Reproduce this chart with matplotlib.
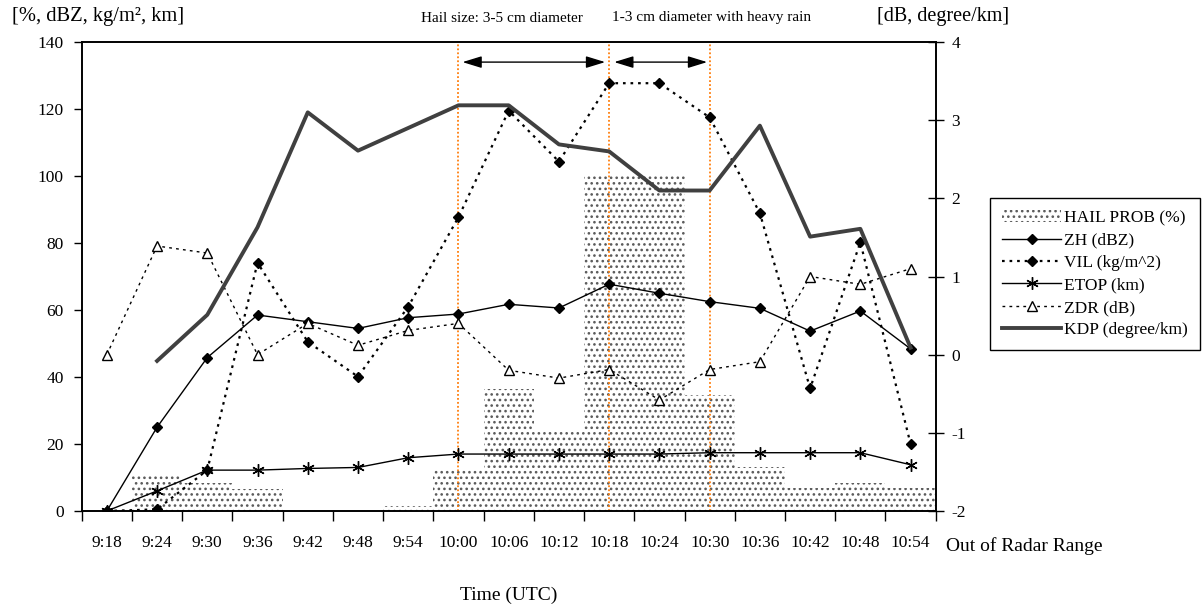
import numpy as np
import matplotlib
matplotlib.use('Agg')
import matplotlib.pyplot as plt

plt.rcParams['font.family'] = ['Liberation Serif', 'DejaVu Serif']
plt.rcParams['hatch.linewidth'] = 1.1
plt.rcParams['axes.unicode_minus'] = False

times = ['9:18', '9:24', '9:30', '9:36', '9:42', '9:48', '9:54', '10:00', '10:06',
         '10:12', '10:18', '10:24', '10:30', '10:36', '10:42', '10:48', '10:54']
hail_prob = [0, 11, 8.5, 6.5, 0, 0, 1.5, 12.5, 36.5, 23.5, 100, 100, 34.5, 13, 7, 8.5, 7]
zh = [0, 25, 45.8, 58.5, 56.5, 54.5, 57.7, 58.8, 61.7, 60.6, 67.7, 65, 62.5, 60.5, 53.7, 59.7, 48.4]
vil = [0, 0.5, 12.2, 74.1, 50.5, 40.1, 61, 87.7, 119.5, 104.3, 127.7, 127.7, 117.5, 88.9, 36.6, 80.2, 20]
etop = [0, 6, 12.2, 12.2, 12.7, 13, 15.9, 17, 17, 17, 17, 17, 17.4, 17.4, 17.4, 17.4, 13.8]
zdr = [0.0, 1.39, 1.30, 0.0, 0.40, 0.12, 0.31, 0.40, -0.2, -0.3, -0.19, -0.58, -0.19, -0.09, 1.0, 0.9, 1.1]
kdp = [np.nan, -0.08, 0.51, 1.63, 3.10, 2.61, 2.90, 3.19, 3.19, 2.69, 2.60, 2.10, 2.10, 2.93, 1.51, 1.61, 0.09]
event_times = ['10:00', '10:18', '10:30']
left_ticks = [0, 20, 40, 60, 80, 100, 120, 140]
right_ticks = [-2, -1, 0, 1, 2, 3, 4]

W, H = 1204, 608
fig = plt.figure(figsize=(W / 100, H / 100), dpi=100)
ax = fig.add_axes([81.7 / W, 1 - 511 / H, (935.7 - 81.7) / W, (511 - 42) / H])
x = np.arange(len(times))

bars = ax.bar(x, hail_prob, width=1.0, facecolor='white', edgecolor='#5a5a5a',
              linewidth=0, hatch='...', zorder=1, label='HAIL PROB (%)')

for t in event_times:
    ax.axvline(times.index(t), color='#ff7f0e', ls=(0, (1, 1.2)), lw=1.3, zorder=2)

l_zh, = ax.plot(x, zh, '-', color='black', lw=1, marker='D', ms=5, zorder=4, label='ZH (dBZ)')
l_vil, = ax.plot(x, vil, color='black', lw=1.6, ls=(0, (1.2, 2.2)), marker='D', ms=5,
                 zorder=4, label='VIL (kg/m^2)')
l_etop, = ax.plot(x, etop, '-', color='black', lw=1, marker=(6, 2, 0), ms=9, mew=1,
                  zorder=4, label='ETOP (km)')

ax.set_xlim(-0.5, len(times) - 0.5)
ax.set_ylim(0, 140)
ax.set_yticks(left_ticks)
ax.set_xticks(x)
ax.set_xticklabels(times)
ax.set_xticks(np.arange(-0.5, len(times), 1), minor=True)
ax.tick_params(axis='x', which='major', length=0, pad=17, labelsize=12.5)
ax.tick_params(axis='x', which='minor', length=7, direction='out', width=1)
ax.tick_params(axis='y', length=6, direction='out', pad=7, labelsize=12.5, width=1)

# arrows
i0, i1, i2 = [times.index(t) for t in event_times]
for a, b in [(i0 + 0.08, i1 - 0.08), (i1 + 0.1, i2 - 0.05)]:
    ax.annotate('', xy=(b, 134), xytext=(a, 134),
                arrowprops=dict(arrowstyle='<|-|>,head_length=0.65,head_width=0.2',
                                color='black', lw=1, mutation_scale=18,
                                shrinkA=0, shrinkB=0), zorder=5)

ax2 = ax.twinx()
l_zdr, = ax2.plot(x, zdr, color='black', lw=1, ls=(0, (2, 3)), marker='^', ms=6.5,
                  mfc='white', mec='black', mew=1, label='ZDR (dB)')
l_kdp, = ax2.plot(x, kdp, color='#404040', lw=2.8, label='KDP (degree/km)')
ax2.set_ylim(-2, 4)
ax2.set_yticks(right_ticks)
ax2.tick_params(axis='y', direction='inout', length=11, pad=6, labelsize=12.5, width=1)

for a_ in (ax, ax2):
    for s in a_.spines.values():
        s.set_linewidth(1.2)
        s.set_color('black')

fig.text(12 / W, 1 - 17 / H, '[%, dBZ, kg/m\u00b2, km]', fontsize=14.8, va='center', ha='left')
fig.text(877 / W, 1 - 17 / H, '[dB, degree/km]', fontsize=14.5, va='center', ha='left')
fig.text(421 / W, 1 - 18 / H, 'Hail size: 3-5 cm diameter', fontsize=11, va='center', ha='left')
fig.text(612 / W, 1 - 18 / H, '1-3 cm diameter with heavy rain', fontsize=11, va='center', ha='left')
fig.text(946 / W, 1 - 546 / H, 'Out of Radar Range', fontsize=14, va='center', ha='left')
fig.text(509 / W, 1 - 595 / H, 'Time (UTC)', fontsize=14, va='center', ha='center')

handles = [bars, l_zh, l_vil, l_etop, l_zdr, l_kdp]
leg = fig.legend(handles, [h.get_label() for h in handles], loc='upper left',
                 bbox_to_anchor=(990 / W, 1 - 198 / H), bbox_transform=fig.transFigure,
                 frameon=True, fancybox=False, edgecolor='black', framealpha=1,
                 fontsize=12.5, handlelength=3.4, handletextpad=0.15, labelspacing=0.36,
                 borderpad=0.7, borderaxespad=0)
leg.get_frame().set_linewidth(1)

fig.savefig('out.png', dpi=100)
